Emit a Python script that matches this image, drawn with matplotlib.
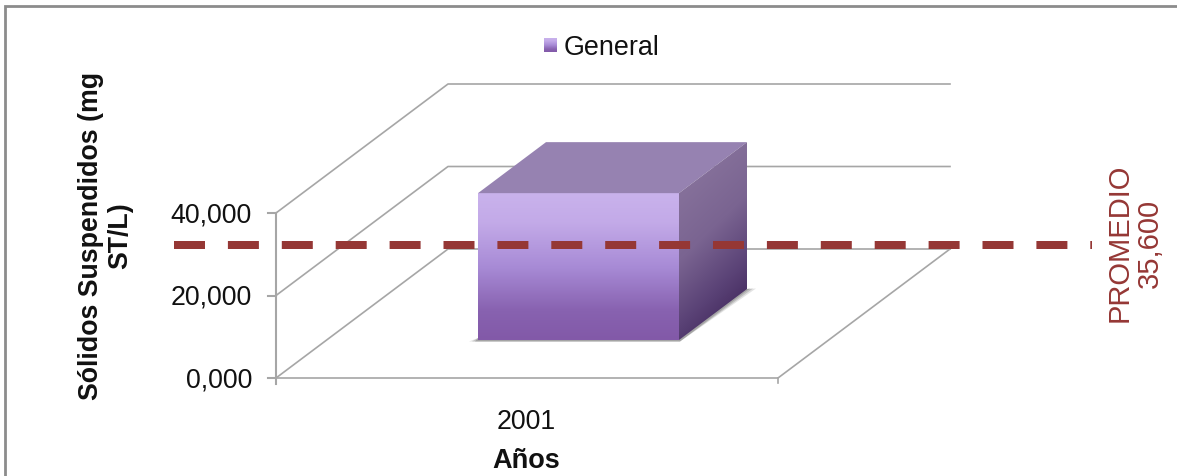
import matplotlib
matplotlib.use("Agg")
import matplotlib.pyplot as plt
import numpy as np
from matplotlib.patches import Polygon

plt.rcParams["font.family"] = ["Liberation Sans", "DejaVu Sans"]

Y_TICKS = [0, 20, 40]
Y_LABELS = ["0,000", "20,000", "40,000"]
CATEGORY = "2001"
BAR_VALUE = 35.6
SERIES_NAME = "General"
AVERAGE_LABEL = "PROMEDIO\n35,600"

W, H = 1177, 476
GRID = "#a6a6a6"
RED = "#953735"
FRONT = [(0, "#c9b2ec"), (0.2, "#c3aae8"), (0.5, "#a88bd6"), (0.8, "#8862b0"), (1, "#8259a8")]
SIDE = [(0.2, "#85709a"), (0.45, "#7a6491"), (0.7, "#5a4276"), (0.8, "#4d3468")]

# plot box in pixels
X0, X1, Y0 = 276, 778, 378
DEPTH_X, DEPTH_Y = 172, -129
PX_PER_UNIT = 82.5 / 20

fig = plt.figure(figsize=(W / 100, H / 100), dpi=100)
ax = fig.add_axes([0, 0, 1, 1])
ax.set_xlim(0, W)
ax.set_ylim(H, 0)
ax.axis("off")


def val_y(v):
    return Y0 - v * PX_PER_UNIT


def gradient(poly_pts, stops, extent, x_share=0.0, zorder=3):
    n = 200
    pos = np.array([s[0] for s in stops])
    rgb = np.array([matplotlib.colors.to_rgb(s[1]) for s in stops])
    yy, xx = np.mgrid[0:1:n * 1j, 0:1:n * 1j]
    t = (1 - x_share) * yy + x_share * xx
    img = np.stack([np.interp(t, pos, rgb[:, i]) for i in range(3)], axis=-1)
    im = ax.imshow(img, extent=extent, aspect="auto", zorder=zorder, interpolation="bilinear")
    im.set_clip_path(Polygon(poly_pts, transform=ax.transData))


# outer frame, open on the right
ax.plot([5, 5, W], [H, 6, 6], color="#8c8c8c", lw=2, solid_joinstyle="miter", zorder=1)

# walls and floor
for v, label in zip(Y_TICKS, Y_LABELS):
    y = val_y(v)
    ax.plot([X0, X0 + DEPTH_X, X1 + DEPTH_X], [y, y + DEPTH_Y, y + DEPTH_Y], color=GRID, lw=1.2, zorder=2)
    ax.plot([X0 - 8, X0], [y, y], color=GRID, lw=1.5, zorder=2)
    ax.text(252, y + 2.5, label, ha="right", va="center", fontsize=19.3, color="#111111")
ax.plot([X0, X0], [val_y(Y_TICKS[-1]), Y0 + 6], color=GRID, lw=1.5, zorder=2)
ax.plot([X0, X1, X1 + DEPTH_X], [Y0, Y0, Y0 + DEPTH_Y], color=GRID, lw=1.2, zorder=2)
ax.plot([X1, X1], [Y0, Y0 + 5], color=GRID, lw=1.2, zorder=2)

# bar
bx0, bx1, by0 = 478, 679, 340
by1 = by0 - BAR_VALUE * PX_PER_UNIT
dx, dy = 68, -51
for grow, alpha in [(9, 0.2), (6, 0.3), (3, 0.4)]:
    ax.add_patch(Polygon([(bx0 - grow, by0 + 1.5), (bx0, by0 - 2), (bx1 + dx, by0 + dy), (bx1 + dx + grow, by0 + dy - 0.5), (bx1 + 1, by0 + 1.5)],
                         facecolor="#777777", alpha=alpha, lw=0, zorder=2.5))
gradient([(bx0, by1), (bx1, by1), (bx1, by0), (bx0, by0)], FRONT, (bx0, bx1, by0, by1))
ax.add_patch(Polygon([(bx0, by1), (bx1, by1), (bx1 + dx, by1 + dy), (bx0 + dx, by1 + dy)], color="#9682b1", lw=0, zorder=3))
gradient([(bx1, by1), (bx1 + dx, by1 + dy), (bx1 + dx, by0 + dy), (bx1, by0)], SIDE,
         (bx1, bx1 + dx, by0, by1 + dy), x_share=0.25)

# average line
ax.plot([174, 1092], [245, 245], color=RED, lw=5.76, dashes=(31 / 8, 22.9 / 8), dash_capstyle="butt", zorder=5)
ax.text(1134.5, 243, AVERAGE_LABEL, rotation=90, ha="center", va="center", multialignment="center",
        fontsize=21, color=RED, linespacing=1.1, zorder=6)

# legend
gradient([(544, 38), (557, 38), (557, 52), (544, 52)], FRONT, (544, 557, 52, 38), zorder=4)
ax.text(564, 48, SERIES_NAME, ha="left", va="center", fontsize=19.4, color="#111111")

# axis titles
ax.text(526, 422, CATEGORY, ha="center", va="center", fontsize=19.3, color="#111111")
ax.text(526, 461, "Años", ha="center", va="center", fontsize=19.5, fontweight="bold", color="#111111")
ax.text(106, 235.5, "Sólidos Suspendidos (mg\nST/L)", rotation=90, ha="center", va="center", multialignment="center",
        fontsize=19.3, fontweight="bold", color="#111111", linespacing=1.17)

ax.set_xlim(0, W)
ax.set_ylim(H, 0)
fig.savefig("out.png", dpi=100)
